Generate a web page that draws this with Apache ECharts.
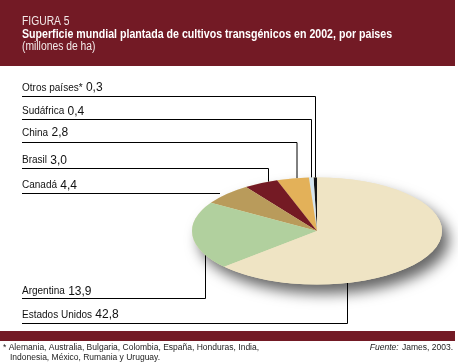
<!DOCTYPE html>
<html><head><meta charset="utf-8">
<script src="https://cdn.jsdelivr.net/npm/echarts@6/dist/echarts.min.js"></script>
<style>html,body{margin:0;padding:0;background:#fff}#c{width:458px;height:363px}</style>
</head><body><div id="c"></div>
<script>
// Data (counter-clockwise from 12 o'clock)
const categories = ['Otros países*', 'Sudáfrica', 'China', 'Brasil', 'Canadá', 'Argentina', 'Estados Unidos'];
const values = [0.3, 0.4, 2.8, 3.0, 4.4, 13.9, 42.8];
const colors = ['#141414', '#d4e4ee', '#e3b159', '#741a24', '#b99b5b', '#b1d09e', '#efe4c4'];
const titleLines = ['FIGURA 5', 'Superficie mundial plantada de cultivos transgénicos en 2002, por paises', '(millones de ha)'];
const footLines = ['* Alemania, Australia, Bulgaria, Colombia, España, Honduras, India,', 'Indonesia, México, Rumania y Uruguay.'];

const FONT = '"Liberation Sans", Arial, sans-serif';
const fmt = v => v.toFixed(1).replace('.', ',');
const total = values.reduce((a, b) => a + b, 0);

// leader layout: [textCenterY, lineY, lineEndX, verticalEndY or null]
const leaders = [
  [88, 96.5, 315.5, 178],
  [111.5, 119.5, 311.5, 178],
  [133, 142.5, 297, 179],
  [160.5, 168.5, 268.5, 182],
  [185.5, 193.5, 220, null],
  [291.5, 298.5, 205.5, 253],
  [315, 323.5, 347.5, 283]
];

const chart = echarts.init(document.getElementById('c'), null, {renderer: 'canvas'});
const CX = 317, CY = 231, R = 125, SY = 0.428;

const graphics = [];
graphics.push({type: 'rect', shape: {x: 0, y: 0, width: 455, height: 66}, style: {fill: '#731a25'}, z: 1});
graphics.push({type: 'rect', shape: {x: 0, y: 331, width: 455, height: 10}, style: {fill: '#731a25'}, z: 1});
graphics.push({type: 'text', x: 22, y: 21.5, scaleX: 0.86, style: {text: titleLines[0], font: '12px ' + FONT, fill: '#f3e9e9', verticalAlign: 'middle'}, z: 2});
graphics.push({type: 'text', x: 22, y: 34.5, scaleX: 0.885, style: {text: titleLines[1], font: 'bold 12px ' + FONT, fill: '#ffffff', verticalAlign: 'middle'}, z: 2});
graphics.push({type: 'text', x: 22, y: 46.5, scaleX: 0.86, style: {text: titleLines[2], font: '12px ' + FONT, fill: '#f3e9e9', verticalAlign: 'middle'}, z: 2});

categories.forEach((name, i) => {
  const L = leaders[i];
  const pts = [[22, L[1]], [L[2], L[1]]];
  if (L[3] != null) pts.push([L[2], L[3]]);
  graphics.push({type: 'polyline', shape: {points: pts}, style: {stroke: '#000', lineWidth: 1, fill: null}, z: 2});
  graphics.push({type: 'text', x: 22, y: L[0], z: 2, style: {
    rich: {n: {font: '10px ' + FONT, fill: '#111'}, v: {font: '12px ' + FONT, fill: '#111'}},
    text: '{n|' + name + '} {v|' + fmt(values[i]) + '}', verticalAlign: 'middle'}});
});

graphics.push({type: 'text', x: 3, y: 348, z: 2, style: {text: footLines[0], font: '8.5px ' + FONT, fill: '#222', verticalAlign: 'middle'}});
graphics.push({type: 'text', x: 10, y: 357.5, z: 2, style: {text: footLines[1], font: '8.5px ' + FONT, fill: '#222', verticalAlign: 'middle'}});
graphics.push({type: 'text', x: 453, y: 348, z: 2, style: {
  rich: {i: {font: 'italic 8.5px ' + FONT, fill: '#222'}, r: {font: '8.5px ' + FONT, fill: '#222'}},
  text: '{i|Fuente:} {r|James, 2003.}', align: 'right', verticalAlign: 'middle'}});

const cum = [];
values.reduce((acc, v, i) => { cum[i] = acc; return acc + v; }, 0);
const k = Math.PI * 2 / total;

chart.setOption({
  backgroundColor: '#ffffff',
  animation: false,
  graphic: graphics,
  series: [{
    type: 'custom',
    coordinateSystem: 'none',
    z: 5,
    data: values.map((v, i) => ({name: categories[i], value: v})),
    renderItem: function (params, api) {
      const i = params.dataIndex;
      const v = api.value(0);
      const start = -Math.PI / 2 - (cum[i] + v) * k;
      const end = -Math.PI / 2 - cum[i] * k;
      const children = [];
      if (i === 0) {
        children.push({type: 'circle', shape: {cx: 0, cy: 0, r: R}, x: CX, y: CY, scaleY: SY,
          style: {fill: '#efe4c4', shadowBlur: 14, shadowOffsetX: 7, shadowOffsetY: 9, shadowColor: 'rgba(0,0,0,0.6)'}});
      }
      children.push({type: 'sector', x: CX, y: CY, scaleY: SY,
        shape: {cx: 0, cy: 0, r0: 0, r: R, startAngle: start, endAngle: end, clockwise: true},
        style: {fill: colors[i]}});
      return {type: 'group', children: children};
    }
  }]
});
</script></body></html>
